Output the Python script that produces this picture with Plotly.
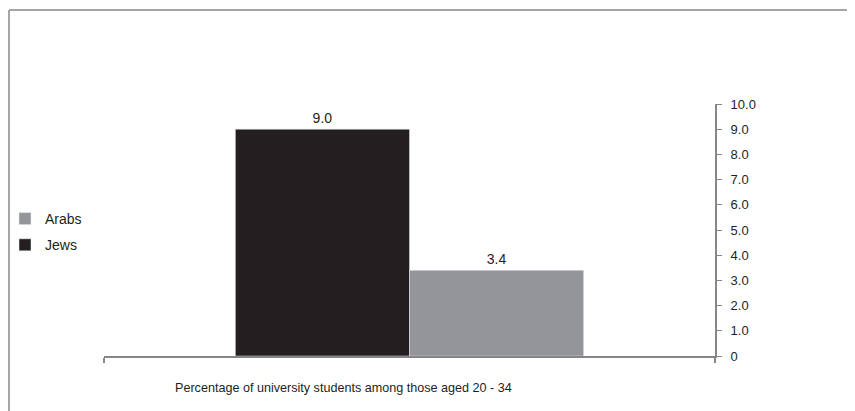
import plotly.graph_objects as go

category = ["Percentage of university students among those aged 20 - 34"]
series_names = ["Jews", "Arabs"]
jews = [9.0]
arabs = [3.4]
tick_vals = [0, 1, 2, 3, 4, 5, 6, 7, 8, 9, 10]
tick_text = ["0", "1.0", "2.0", "3.0", "4.0", "5.0", "6.0", "7.0", "8.0", "9.0", "10.0"]

OFF = 8  # page body margin
W, H = 855 - OFF, 411 - OFF
# plot area in page pixels
PL, PR, PT, PB = 104, 715, 104, 356
L, R, T, B = PL - OFF, PR - OFF, PT - OFF, PB - OFF
fnt = "Liberation Sans"
txt = "#231f20"

fig = go.Figure()
fig.add_trace(go.Bar(x=category, y=jews, name=series_names[0], legendrank=2, legendgroup="jews",
                     marker_color="#231f20",
                     text=[f"{v:.1f}" for v in jews], textposition="outside",
                     textfont=dict(size=14, color=txt, family=fnt), cliponaxis=False))
fig.add_trace(go.Bar(x=category, y=arabs, name=series_names[1], legendrank=1, legendgroup="arabs",
                     marker_color="#939598",
                     text=[f"{v:.1f}" for v in arabs], textposition="outside",
                     textfont=dict(size=14, color=txt, family=fnt), cliponaxis=False))

pw = PR - PL
ph = PB - PT
def px_x(px):
    return (px - PL) / pw
def px_y(py):
    return (PB - py) / ph

fig.update_layout(
    width=W, height=H,
    margin=dict(l=L, r=W - R, t=T, b=H - B, pad=0, autoexpand=False),
    paper_bgcolor="white", plot_bgcolor="white",
    barmode="group", bargap=0.43, bargroupgap=0,
    font=dict(family=fnt, size=14, color=txt),
    showlegend=True,
    legend=dict(traceorder="grouped", x=px_x(5), xanchor="left", y=px_y(232), yanchor="middle",
                itemwidth=30, font=dict(size=14, family=fnt, color=txt),
                bgcolor="rgba(0,0,0,0)", tracegroupgap=5),
    xaxis=dict(showticklabels=False, showline=True, linecolor="#868686", linewidth=2,
               ticks="outside", tickson="boundaries", ticklen=5, tickcolor="#868686", tickwidth=1.5,
               showgrid=False, zeroline=False, automargin=False),
    yaxis=dict(side="right", range=[0, 10], tickvals=tick_vals, ticktext=tick_text,
               showline=True, linecolor="#868686", linewidth=2, ticks="outside", ticklen=5,
               tickcolor="#868686", tickwidth=1, showgrid=False, zeroline=False, automargin=False,
               ticklabelstandoff=6, tickfont=dict(size=13, family=fnt, color=txt)),
    shapes=[
        dict(type="line", xref="paper", yref="paper", x0=px_x(9), x1=px_x(900), y0=px_y(10), y1=px_y(10),
             line=dict(color="#a6a6a6", width=2)),
        dict(type="line", xref="paper", yref="paper", x0=px_x(9), x1=px_x(9), y0=px_y(10), y1=px_y(450),
             line=dict(color="#a6a6a6", width=2)),
    ],
    annotations=[
        dict(text=category[0], xref="paper", yref="paper", x=px_x(343), y=px_y(388),
             xanchor="center", yanchor="middle", showarrow=False,
             font=dict(size=12.6, family=fnt, color=txt)),
    ],
)

fig.write_html("out.html")
